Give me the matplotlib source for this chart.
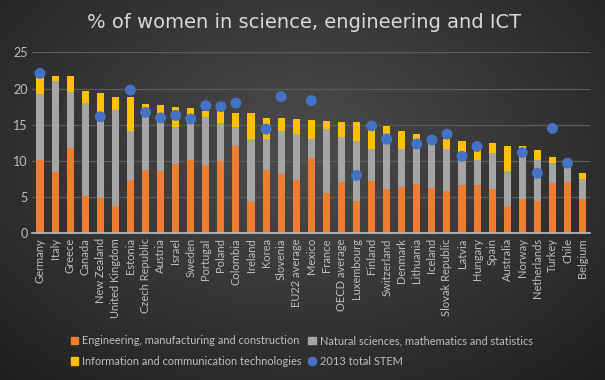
import numpy as np
import matplotlib
matplotlib.use("Agg")
import matplotlib.pyplot as plt
from matplotlib.lines import Line2D
from matplotlib.patches import Patch

countries = [
    "Germany", "Italy", "Greece", "Canada", "New Zealand", "United Kingdom",
    "Estonia", "Czech Republic", "Austria", "Israel", "Sweden", "Portugal",
    "Poland", "Colombia", "Ireland", "Korea", "Slovenia", "EU22 average",
    "Mexico", "France", "OECD average", "Luxembourg", "Finland", "Switzerland",
    "Denmark", "Lithuania", "Iceland", "Slovak Republic", "Latvia", "Hungary",
    "Spain", "Australia", "Norway", "Netherlands", "Turkey", "Chile", "Belgium",
]
engineering = [
    10.1, 8.5, 11.75, 5.15, 4.9, 3.8, 7.4, 8.75, 8.6, 9.6, 10.2, 9.45,
    10.05, 12.0, 4.3, 8.75, 8.2, 7.4, 10.45, 5.6, 7.15, 4.4, 7.3, 6.1,
    6.35, 6.85, 6.25, 5.85, 6.65, 6.65, 6.15, 3.8, 4.8, 4.4, 7.0, 7.1, 4.8,
]
natural = [
    9.1, 12.6, 7.75, 12.85, 11.0, 13.25, 6.75, 7.6, 7.9, 5.05, 5.0, 6.6,
    5.15, 2.65, 8.7, 4.35, 6.0, 6.3, 2.6, 8.8, 6.15, 8.3, 4.3, 7.8,
    5.25, 5.85, 6.2, 5.75, 4.5, 3.55, 4.9, 4.75, 5.6, 5.8, 2.7, 2.2, 2.75,
]
ict = [
    2.5, 0.6, 2.2, 1.7, 3.55, 1.75, 4.65, 1.55, 1.3, 2.85, 2.1, 0.9,
    1.75, 1.95, 3.6, 2.9, 1.7, 2.05, 2.65, 1.1, 2.05, 2.7, 2.7, 0.95,
    2.55, 1.0, 0.95, 1.4, 1.6, 2.35, 1.4, 3.45, 1.6, 1.3, 0.9, 0.3, 0.75,
]
stem_2013 = [
    22.1, np.nan, np.nan, np.nan, 16.1, np.nan, 19.8, 16.7, 15.95, 16.3, 15.8, 17.65,
    17.5, 18.0, np.nan, 14.4, 18.9, np.nan, 18.35, np.nan, np.nan, 8.0, 14.85, 13.0,
    np.nan, 12.35, 12.9, 13.7, 10.65, 12.0, np.nan, np.nan, 11.15, 8.3, 14.5, 9.7, np.nan,
]

ORANGE = "#ED7D31"
GRAY = "#A5A5A5"
YELLOW = "#FFC000"
BLUE = "#4472C4"
TEXT = "#BFBFBF"

fig = plt.figure(figsize=(6.05, 3.8), dpi=100)

# radial dark background
bg = fig.add_axes([0, 0, 1, 1], zorder=-10)
yy, xx = np.mgrid[0:380, 0:605]
r = np.sqrt(((xx - 300) / 420.0) ** 2 + ((yy - 150) / 300.0) ** 2)
shade = np.clip(0.30 - 0.17 * r, 0.11, 0.30)
bg.imshow(np.dstack([shade, shade, shade]), aspect="auto", extent=[0, 1, 0, 1])
bg.set_axis_off()

ax = fig.add_axes([0.0537, 0.386, 0.9217, 0.476])
ax.patch.set_alpha(0)

x = np.arange(len(countries))
eng = np.array(engineering)
nat = np.array(natural)
ic = np.array(ict)
width = 0.47
ax.bar(x, eng, width, color=ORANGE, zorder=2)
ax.bar(x, nat, width, bottom=eng, color=GRAY, zorder=2)
ax.bar(x, ic, width, bottom=eng + nat, color=YELLOW, zorder=2)
ax.scatter(x, stem_2013, s=62, color=BLUE, zorder=3, edgecolors="none")

ax.set_xlim(-0.5, len(countries) - 0.5)
ax.set_ylim(0, 25)
ax.set_yticks(range(0, 26, 5))
ax.grid(axis="y", color="#5C5C5C", linewidth=0.9, zorder=0)
ax.set_axisbelow(True)
for side in ["top", "right", "left"]:
    ax.spines[side].set_visible(False)
ax.spines["bottom"].set_color("#BFBFBF")
ax.spines["bottom"].set_linewidth(1.2)
ax.tick_params(axis="both", length=0, colors=TEXT, labelsize=8.5)
ax.set_xticks(x)
ax.set_xticklabels(countries, rotation=90, fontsize=8, fontfamily="Lato")
for lbl in ax.get_yticklabels():
    lbl.set_fontfamily("Lato")
    lbl.set_fontsize(9)

fig.text(0.502, 0.94, "% of women in science, engineering and ICT",
         ha="center", va="center", color="#D9D9D9", fontsize=14)

handles = [
    Patch(color=ORANGE, label="Engineering, manufacturing and construction"),
    Patch(color=YELLOW, label="Information and communication technologies"),
    Patch(color=GRAY, label="Natural sciences, mathematics and statistics"),
    Line2D([], [], marker="o", color=BLUE, linestyle="none", markersize=6,
           label="2013 total STEM"),
]
leg = fig.legend(handles=handles, ncol=2, loc="center", bbox_to_anchor=(0.499, 0.076),
                 frameon=False, handlelength=0.7, handleheight=0.7,
                 handletextpad=0.35, columnspacing=0.6, labelspacing=0.9,
                 prop={"family": "Lato", "size": 7.9})
for t in leg.get_texts():
    t.set_color(TEXT)

fig.savefig("out.png", dpi=100, facecolor="#2A2A2A")
